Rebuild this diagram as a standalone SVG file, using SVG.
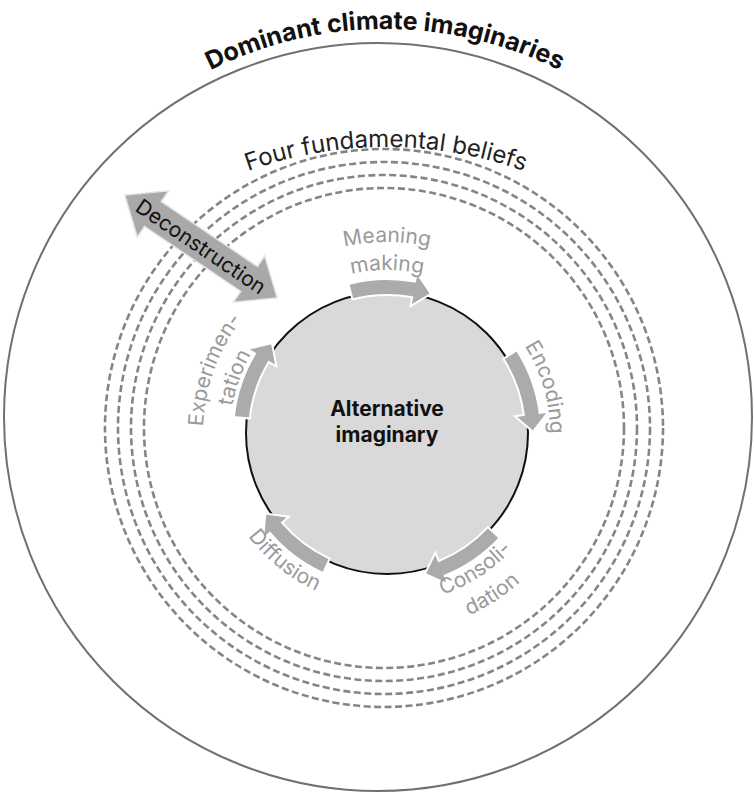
<svg xmlns="http://www.w3.org/2000/svg" width="754" height="793" viewBox="0 0 754 793">
<style>
text { font-family: Inter, "Liberation Sans", sans-serif; }
.title { font-size: 25px; font-weight: 700; fill: #111; }
.beliefs-label { font-size: 24px; fill: #222; }
.dash { fill: none; stroke: #858585; stroke-width: 2.6; stroke-dasharray: 7 3.5; }
.step { font-size: 21px; fill: #9a9a9a; }
.cyc { fill: #ababab; stroke: #ffffff; stroke-width: 2; }
.center { font-size: 21px; font-weight: 700; fill: #111; text-anchor: middle; }
</style>
<defs>
  <path id="titlePath" d="M-4,418 A389,389 0 0 1 774,418"/>
  <path id="beliefsPath" d="M-22,555 A408,408 0 0 1 794,555"/>
  <path id="top157" d="M-157,0 A157,157 0 0 1 157,0"/>
  <path id="top163" d="M-163,0 A163,163 0 0 1 163,0"/>
  <path id="top184" d="M-184,0 A184,184 0 0 1 184,0"/>
  <path id="top191" d="M-191,0 A191,191 0 0 1 191,0"/>
  <path id="bot171" d="M-171,0 A171,171 0 0 0 171,0"/>
  <path id="bot173" d="M-173,0 A173,173 0 0 0 173,0"/>
  <path id="bot200" d="M-200,0 A200,200 0 0 0 200,0"/>
  <path id="cycArrow" d="M148.03,-42.45 A154,154 0 0 1 152.10,24.09 L160.99,25.50 L140.34,40.24 L127.41,20.18 L136.30,21.59 A138,138 0 0 0 132.65,-38.04 Z"/>
</defs>

<g id="dominant-climate-imaginaries">
  <circle cx="378" cy="417" r="374" fill="none" stroke="#707070" stroke-width="2"/>
  <text class="title"><textPath href="#titlePath" startOffset="50%" text-anchor="middle">Dominant climate imaginaries</textPath></text>
</g>

<g id="four-fundamental-beliefs">
  <circle class="dash" cx="384" cy="428" r="240"/>
  <circle class="dash" cx="384" cy="428" r="253"/>
  <circle class="dash" cx="384" cy="428" r="266"/>
  <circle class="dash" cx="384" cy="428" r="279"/>
  <text class="beliefs-label"><textPath href="#beliefsPath" startOffset="50%" text-anchor="middle">Four fundamental beliefs</textPath></text>
</g>

<g id="deconstruction" transform="translate(201,246.5) rotate(34)">
  <path d="M-92,0 L-58,-28 L-58,-15 L58,-15 L58,-28 L92,0 L58,28 L58,15 L-58,15 L-58,28 Z" fill="#a9a9a9" stroke="#e6e6e6" stroke-width="1.5"/>
  <text x="0" y="7.5" font-size="21" fill="#111" text-anchor="middle">Deconstruction</text>
</g>

<g id="alternative-imaginary">
  <circle cx="387" cy="433" r="141" fill="#d9d9d9" stroke="#111" stroke-width="2"/>
  <text class="center" x="387" y="416">Alternative</text>
  <text class="center" x="387" y="442">imaginary</text>
</g>

<g id="connectors">
  <use href="#cycArrow" class="cyc" transform="translate(387,433) rotate(-88.5)"/>
  <use href="#cycArrow" class="cyc" transform="translate(387,433) rotate(-16.5)"/>
  <use href="#cycArrow" class="cyc" transform="translate(387,433) rotate(59)"/>
  <use href="#cycArrow" class="cyc" transform="translate(387,433) rotate(130.5)"/>
  <use href="#cycArrow" class="cyc" transform="translate(387,433) rotate(202)"/>
</g>

<g id="meaning-making" transform="translate(387,433)">
  <text class="step"><textPath href="#top191" startOffset="50%" text-anchor="middle">Meaning</textPath></text>
  <text class="step"><textPath href="#top163" startOffset="50%" text-anchor="middle">making</textPath></text>
</g>

<g id="encoding" transform="translate(387,433) rotate(74)">
  <text class="step"><textPath href="#top163" startOffset="50%" text-anchor="middle">Encoding</textPath></text>
</g>

<g id="consolidation" transform="translate(387,433) rotate(-33)">
  <text class="step"><textPath href="#bot171" startOffset="50%" text-anchor="middle">Consoli-</textPath></text>
  <text class="step"><textPath href="#bot200" startOffset="50%" text-anchor="middle">dation</textPath></text>
</g>

<g id="diffusion" transform="translate(387,433) rotate(38.7)">
  <text class="step"><textPath href="#bot173" startOffset="50%" text-anchor="middle">Diffusion</textPath></text>
</g>

<g id="experimentation" transform="translate(387,433) rotate(-70)">
  <text class="step"><textPath href="#top184" startOffset="50%" text-anchor="middle">Experimen-</textPath></text>
  <text class="step"><textPath href="#top157" startOffset="50%" text-anchor="middle">tation</textPath></text>
</g>
</svg>
